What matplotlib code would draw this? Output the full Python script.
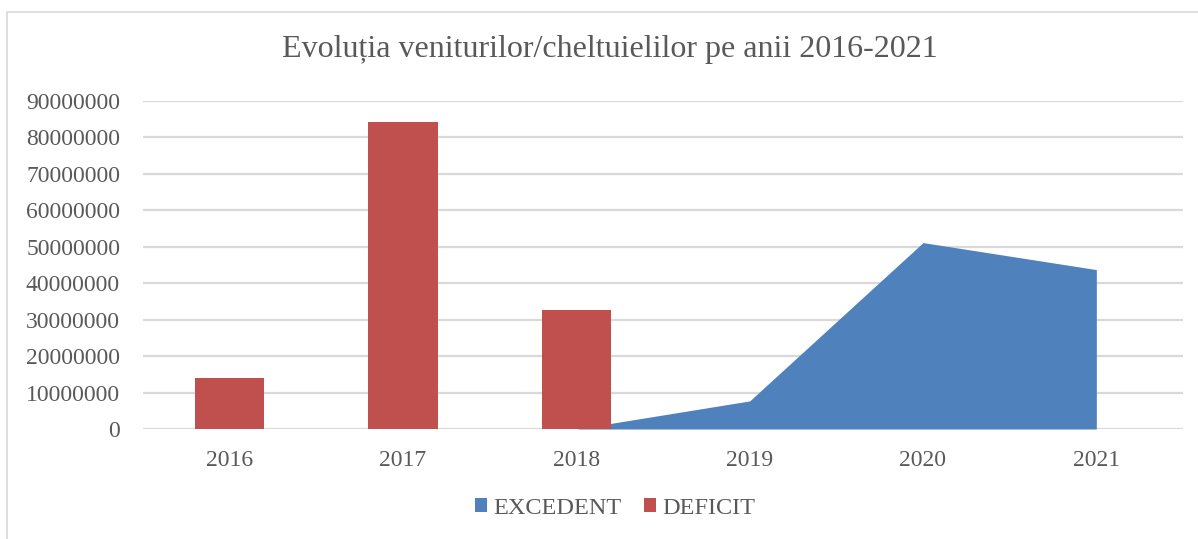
import numpy as np
import matplotlib
matplotlib.use('Agg')
import matplotlib.pyplot as plt
from matplotlib.patches import Rectangle, Patch

# data
years = ['2016', '2017', '2018', '2019', '2020', '2021']
excedent = [0, 0, 0, 7700000, 51100000, 43700000]
deficit = [14100000, 84200000, 32700000, 0, 0, 0]
yticks = list(range(0, 90000001, 10000000))

blue = '#4F81BD'
red = '#C0504D'
grid_col = '#D9D9D9'
txt_col = '#595959'

plt.rcParams['font.family'] = ['Liberation Serif', 'DejaVu Serif']

W, H = 1198, 539
fig = plt.figure(figsize=(W / 100, H / 100), dpi=100)
fig.patch.set_facecolor('white')

# chart area outline (only top and left visible in the reference)
fig.patches.append(Rectangle((7 / W, -0.1), 1.2, (H - 12) / H + 0.1,
                             transform=fig.transFigure, fill=False,
                             edgecolor=grid_col, lw=1.2))

ax = fig.add_axes([143 / W, (H - 429) / H, (1183 - 143) / W, (429 - 100.7) / H])
x = np.arange(len(years))

ax.fill_between(x, 0, excedent, color=blue, lw=0, zorder=2)
ax.bar(x, deficit, width=0.4, color=red, zorder=3)

ax.set_xlim(-0.5, len(years) - 0.5)
ax.set_ylim(0, 90000000)
ax.set_yticks(yticks)
ax.set_yticklabels([str(v) for v in yticks])
ax.set_xticks(x)
ax.set_xticklabels(years)
ax.yaxis.grid(True, color=grid_col, lw=1.6, zorder=0)
ax.set_axisbelow(True)
for s in ax.spines.values():
    s.set_visible(False)
ax.tick_params(axis='both', length=0, labelsize=17, labelcolor=txt_col)
ax.tick_params(axis='y', pad=16.5)
ax.tick_params(axis='x', pad=15)

fig.text(610 / W, (H - 50) / H, 'Evoluția veniturilor/cheltuielilor pe anii 2016-2021',
         ha='center', va='center', fontsize=23, color=txt_col)

handles = [Patch(facecolor=blue, label='EXCEDENT'), Patch(facecolor=red, label='DEFICIT')]
fig.legend(handles=handles, loc='center', bbox_to_anchor=(615 / W, (H - 508) / H),
           ncol=2, frameon=False, fontsize=17.5, labelcolor=txt_col,
           handlelength=0.5, handleheight=0.5, handletextpad=0.25, columnspacing=0.9)

fig.savefig('out.png', dpi=100)
